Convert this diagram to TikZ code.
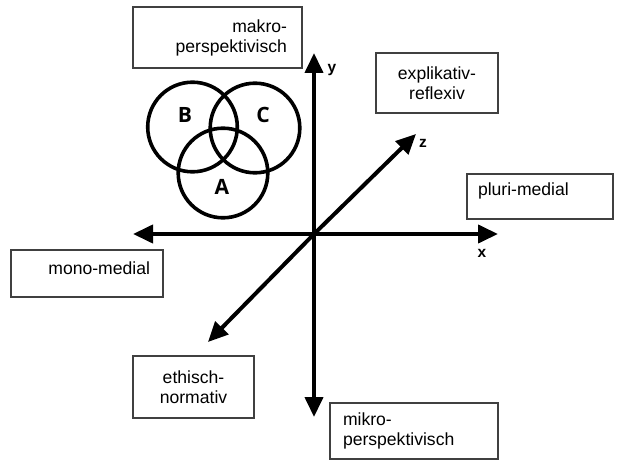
\documentclass[tikz,border=0pt]{standalone}
\usepackage{fontspec}
\setmainfont{Liberation Sans}
\newfontfamily\setfont{Open Sans}
\usetikzlibrary{positioning,arrows.meta}

\tikzset{
  box/.style={draw=black!75, line width=0.3mm, rectangle, inner ysep=0pt,
    font=\fontsize{12.5}{14.2}\selectfont},
  axis/.style={line width=1mm, -{Triangle[length=5mm,width=4.5mm]}},
  ring/.style={draw, circle, line width=0.9mm, minimum size=22.4mm, inner sep=0pt},
  setname/.style={font=\setfont\bfseries\fontsize{15}{15}\selectfont},
  axisname/.style={font=\bfseries\fontsize{11}{11}\selectfont, inner sep=0pt}
}

\begin{document}
\begin{tikzpicture}[x=0.25mm, y=-0.25mm]
  \useasboundingbox (0,0) rectangle (618,463);
  % axes
  \coordinate (O) at (314,234);
  \coordinate (ytop) at (314,53);
  \coordinate (ybot) at (314,417);
  \coordinate (xleft) at (133,234);
  \coordinate (xright) at (498,234);
  \coordinate (ztop) at (416,134);
  \coordinate (zbot) at (208,342);
  \draw[axis] (O) -- (ytop);
  \draw[axis] (O) -- (ybot);
  \draw[axis] (O) -- (xleft);
  \draw[axis] (O) -- (xright);
  \draw[axis] (O) -- (ztop);
  \draw[axis] (O) -- (zbot);
  \node[axisname] (ylab) at (332,70) {y};
  \node[axisname] (zlab) at (423,143) {z};
  \node[axisname] (xlab) at (482,253) {x};
  % the three sets
  \node[ring] (circB) at (192.5,127) {};
  \node[ring] (circC) at (255,128) {};
  \node[ring] (circA) at (223,173) {};
  \node[setname] (labB) at (185,115) {B};
  \node[setname] (labC) at (263,115) {C};
  \node[setname] (labA) at (222,187) {A};
  % boxes
  \node[box, minimum height=15.25mm, inner xsep=3.75mm, text width=34.75mm, align=right]
    (makro) at (217.5,37.5) {makro-\\perspektivisch};
  \node[box, minimum height=15mm, inner xsep=2mm, text width=26.5mm, align=center]
    (explikativ) at (437,83) {explikativ-\\reflexiv};
  \node[box, text height=15.5pt, text depth=16.5pt, inner xsep=2.75mm, text width=31mm, align=left]
    (pluri) at (540,196.5) {pluri-medial};
  \node[box, text height=17.6pt, text depth=15.8pt, inner xsep=3.25mm, text width=31.5mm, align=right]
    (mono) at (87,273.5) {mono-medial};
  \node[box, minimum height=15.5mm, inner xsep=2mm, text width=26.25mm, align=center]
    (ethisch) at (193.5,387) {ethisch-\\normativ};
  \node[box, minimum height=14mm, inner xsep=3.25mm, text width=35.5mm, align=left]
    (mikro) at (414,431) {mikro-\\perspektivisch};
\end{tikzpicture}
\end{document}
